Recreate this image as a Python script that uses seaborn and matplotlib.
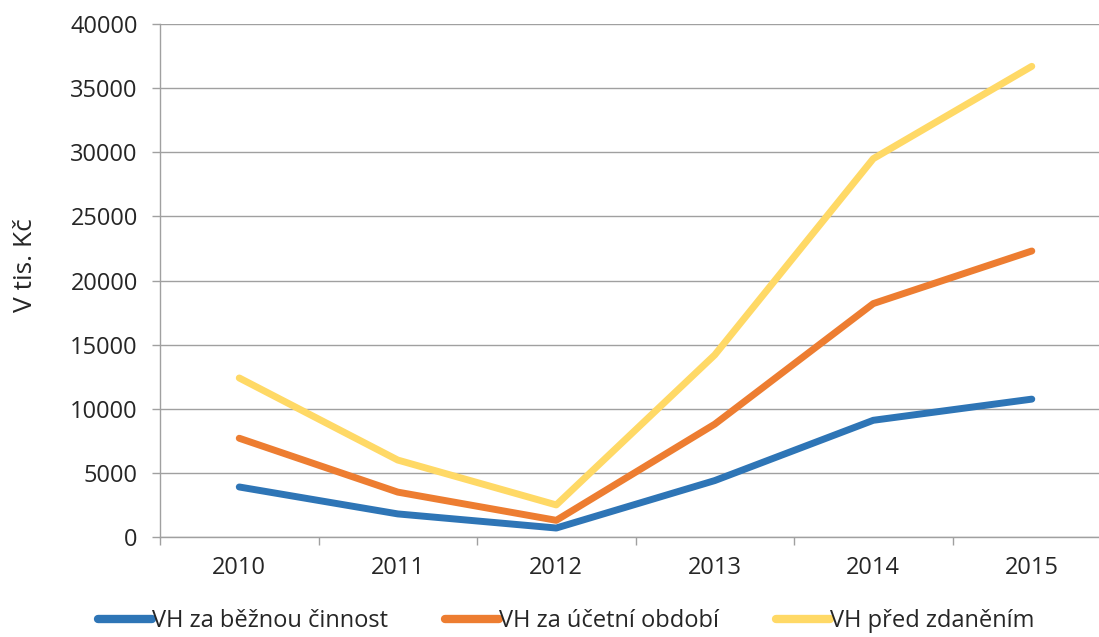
import pandas as pd
import matplotlib.pyplot as plt
import seaborn as sns

roky = ['2010', '2011', '2012', '2013', '2014', '2015']
vh_bezna = [3900, 1800, 700, 4400, 9100, 10750]
vh_ucetni = [7700, 3500, 1300, 8800, 18200, 22300]
vh_pred = [12400, 6000, 2500, 14200, 29500, 36700]
nazvy = ['VH za běžnou činnost', 'VH za účetní období', 'VH před zdaněním']
barvy = ['#2E75B6', '#ED7D31', '#FFD966']

rows = []
for nazev, hodnoty in zip(nazvy, [vh_bezna, vh_ucetni, vh_pred]):
    for r, h in zip(roky, hodnoty):
        rows.append([r, h, nazev])
df = pd.DataFrame(rows, columns=['rok', 'hodnota', 'serie'])

sns.set_style('white')
plt.rcParams['font.family'] = ['Open Sans', 'DejaVu Sans']

fig = plt.figure(figsize=(10.99, 6.37), dpi=100)
ax = fig.add_axes([160 / 1099, 1 - 537 / 637, 939 / 1099, 513 / 637])

sns.lineplot(data=df, x='rok', y='hodnota', hue='serie', palette=barvy,
             linewidth=5, ax=ax, solid_capstyle='round', legend=False)

ax.set_ylim(0, 40000)
ax.set_yticks(range(0, 40001, 5000))
ax.set_xlim(-0.5, 5.424)
ax.set_xticks(range(6))
ax.set_xticklabels(roky)
ax.set_xticks([i + 0.5 for i in range(-1, 5)], minor=True)
ax.grid(axis='y', color='#A0A0A0', linewidth=1)
ax.set_axisbelow(True)
ax.tick_params(axis='y', which='major', length=6, width=1, color='#A0A0A0',
               labelsize=17, pad=10, direction='out', left=True)
ax.tick_params(axis='x', which='major', length=0, labelsize=17, pad=14)
ax.tick_params(axis='x', which='minor', length=6, width=1, color='#A0A0A0',
               direction='out', bottom=True)
for s in ['top', 'right']:
    ax.spines[s].set_visible(False)
for s in ['left', 'bottom']:
    ax.spines[s].set_color('#A0A0A0')
    ax.spines[s].set_linewidth(1)
ax.set_xlabel('')
ax.set_ylabel('V tis. Kč', fontsize=19)
ax.yaxis.set_label_coords(-0.13, 0.53)

handles = [plt.Line2D([], [], color=c, linewidth=6, solid_capstyle='round') for c in barvy]
fig.legend(handles, nazvy, loc='center', bbox_to_anchor=(0.515, 16 / 637),
           ncol=3, frameon=False, fontsize=17, handlelength=2.3, handletextpad=0.0,
           columnspacing=2.4)

fig.savefig('out.png', dpi=100)
